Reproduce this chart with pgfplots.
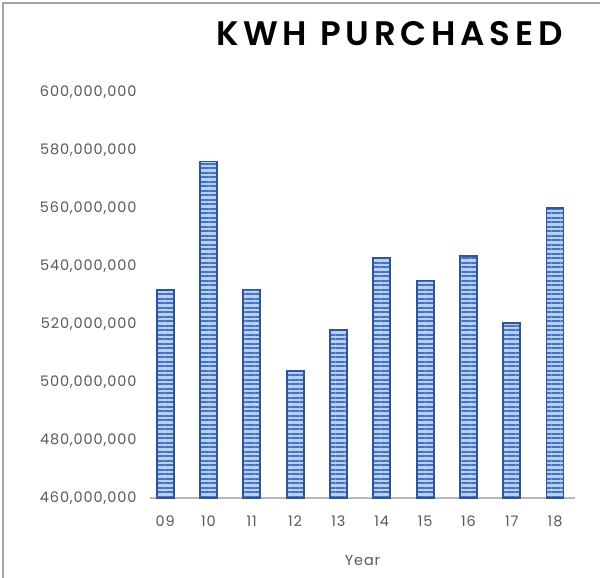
\documentclass[border=0pt]{standalone}
\usepackage{pgfplots}
\pgfplotsset{compat=1.18}
\usetikzlibrary{patterns.meta}
\usepackage{fontspec}
\setmainfont{Poppins}
\newfontfamily\titlefont[LetterSpace=14]{Poppins SemiBold}
\newfontfamily\tickfont[LetterSpace=6]{Poppins}
\definecolor{barfill}{HTML}{B8D0EE}
\definecolor{barstripe}{HTML}{4472C4}
\definecolor{baredge}{HTML}{2E5597}
\definecolor{txtgray}{HTML}{595959}

\begin{document}
\begin{tikzpicture}[x=1pt,y=1pt]
  \useasboundingbox (0,0) rectangle (600,578);
  \draw[gray!70, line width=1.2pt] (3,-5) -- (3,575) -- (605,575);
  \node[anchor=base east, font=\titlefont\fontsize{34}{38}\selectfont] at (566,532) {KWH PURCHASED};
  \begin{axis}[
    at={(150pt,80pt)}, anchor=south west,
    scale only axis, width=425pt, height=406pt,
    xmin=-0.35, xmax=9.46,
    ymin=460000000, ymax=600000000,
    ytick={460000000,480000000,500000000,520000000,540000000,560000000,580000000,600000000},
    xtick={0,...,9},
    xticklabels={09,10,11,12,13,14,15,16,17,18},
    scaled y ticks=false,
    /pgf/number format/.cd, fixed, 1000 sep={,}, assume math mode=true,
    /pgfplots/.cd,
    axis x line=bottom, axis y line=left,
    y axis line style={draw=none},
    x axis line style={-, gray!55, line width=2pt},
    major tick length=0pt,
    tick label style={font=\tickfont\fontsize{14.5}{16}\selectfont, text=txtgray},
    yticklabel style={xshift=-10pt},
    xticklabel style={yshift=-14pt},
    xlabel={Year},
    xlabel style={font=\tickfont\fontsize{14.5}{16}\selectfont, text=txtgray, yshift=-22pt},
    ybar, bar width=17pt,
    clip=false,
  ]
    \addplot[draw=baredge, line width=1.8pt, fill=barfill,
      postaction={pattern={Lines[angle=0, distance=4.5pt, line width=2pt]}, pattern color=barstripe}]
      coordinates {
        (0,531.7e6) (1,576.0e6) (2,531.9e6) (3,503.8e6) (4,517.8e6)
        (5,542.8e6) (6,535.0e6) (7,543.4e6) (8,520.4e6) (9,560.0e6)
      };
  \end{axis}
\end{tikzpicture}
\end{document}
